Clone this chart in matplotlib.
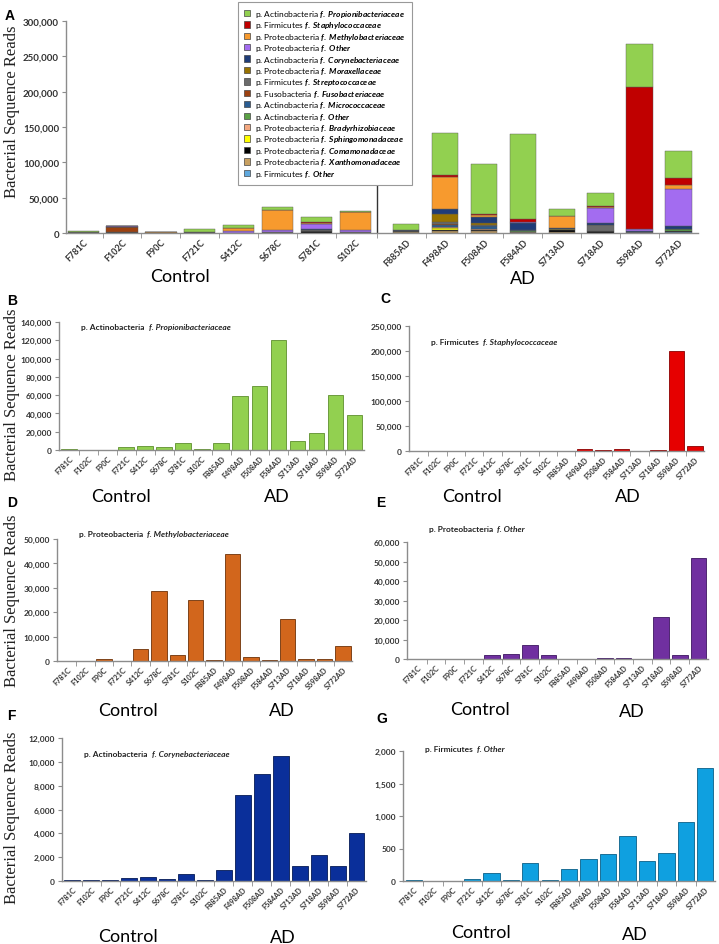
import numpy as np
import matplotlib.pyplot as plt
from matplotlib.patches import Patch
from matplotlib.ticker import FuncFormatter

plt.rcParams['font.family'] = ['Lato', 'DejaVu Sans']
plt.rcParams['mathtext.fontset'] = 'custom'
plt.rcParams['mathtext.it'] = 'Lato:italic:bold'
plt.rcParams['mathtext.rm'] = 'Lato'
plt.rcParams['mathtext.bf'] = 'Lato:bold'

W, H = 719, 945

samples = ['F781C', 'F102C', 'F90C', 'F721C', 'S412C', 'S678C', 'S781C', 'S102C',
           'F885AD', 'F498AD', 'F508AD', 'F584AD', 'S713AD', 'S718AD', 'S598AD', 'S772AD']

# reads per family (same sample order as above)
propioni = [1000, 300, 300, 3500, 4500, 3500, 8000, 1500, 7500, 59500, 70000, 120500, 9500, 18500, 60500, 38500]
staphylo = [0, 0, 0, 0, 0, 0, 500, 0, 0, 3500, 2500, 4000, 0, 1500, 201000, 9500]
methylo = [100, 100, 700, 100, 5000, 28500, 2300, 25200, 500, 44000, 1700, 600, 17300, 800, 800, 6000]
proteo_other = [0, 200, 0, 0, 2000, 2800, 7000, 2000, 0, 0, 400, 300, 0, 21300, 2200, 51800]
coryne = [50, 50, 80, 230, 300, 200, 550, 80, 900, 7200, 8950, 10450, 1270, 2150, 1300, 4000]
moraxella = [0, 0, 0, 0, 0, 0, 0, 0, 0, 12000, 2000, 500, 0, 500, 0, 0]
strepto = [0, 0, 0, 0, 0, 1000, 1500, 1500, 0, 3000, 2500, 0, 0, 9000, 500, 1000]
fuso = [0, 8000, 600, 0, 0, 0, 0, 0, 0, 1000, 0, 0, 0, 0, 0, 0]
micrococ = [0, 0, 0, 0, 0, 0, 0, 0, 0, 3000, 3500, 500, 0, 0, 0, 0]
actino_other = [1000, 0, 0, 0, 0, 0, 500, 0, 0, 0, 500, 2000, 0, 0, 0, 3000]
bradyrhizo = [0, 0, 0, 0, 0, 0, 0, 500, 0, 1500, 500, 0, 0, 0, 0, 0]
sphingo = [0, 0, 0, 0, 0, 0, 0, 0, 500, 2500, 1000, 0, 500, 0, 0, 0]
comamona = [0, 1000, 0, 1500, 0, 500, 2500, 0, 1500, 2000, 1000, 0, 3000, 2000, 500, 500]
xanthomona = [0, 0, 0, 0, 0, 0, 0, 0, 1000, 2000, 2500, 500, 1500, 0, 0, 0]
firm_other = [10, 5, 5, 25, 120, 10, 280, 10, 185, 345, 415, 690, 310, 425, 905, 1740]

legend_labels = [
    ('Actinobacteria', 'Propionibacteriaceae'),
    ('Firmicutes', 'Staphylococcaceae'),
    ('Proteobacteria', 'Methylobacteriaceae'),
    ('Proteobacteria', 'Other'),
    ('Actinobacteria', 'Corynebacteriaceae'),
    ('Proteobacteria', 'Moraxellaceae'),
    ('Firmicutes', 'Streptococcaceae'),
    ('Fusobacteria', 'Fusobacteriaceae'),
    ('Actinobacteria', 'Micrococcaceae'),
    ('Actinobacteria', 'Other'),
    ('Proteobacteria', 'Bradyrhizobiaceae'),
    ('Proteobacteria', 'Sphingomonadaceae'),
    ('Proteobacteria', 'Comamonadaceae'),
    ('Proteobacteria', 'Xanthomonadaceae'),
    ('Firmicutes', 'Other'),
]
stack_data = [propioni, staphylo, methylo, proteo_other, coryne, moraxella, strepto, fuso,
              micrococ, actino_other, bradyrhizo, sphingo, comamona, xanthomona, firm_other]
stack_colors = ['#92D050', '#C00000', '#F79A2E', '#A36CF0', '#1F3C78', '#987200', '#6B6B6B',
                '#9C4110', '#2A5C91', '#5AA145', '#F4A880', '#FFFF00', '#000000', '#C8A060', '#5FA8DD']

AXC = '#8c8c8c'


def mlab(phylum, family):
    fam = family.replace(' ', r'\ ')
    return 'p. ' + phylum + ' ' + r'$f.\ ' + fam + '$'


def px_axes(x0, y0, x1, y1):
    return fig.add_axes([x0 / W, 1 - y1 / H, (x1 - x0) / W, (y1 - y0) / H])


def style(ax, xpos, bounds, xfs, yfs):
    for s in ['top', 'right']:
        ax.spines[s].set_visible(False)
    for s in ['left', 'bottom']:
        ax.spines[s].set_color(AXC)
        ax.spines[s].set_linewidth(1.0)
    ax.set_xticks(xpos)
    ax.set_xticklabels(samples, rotation=45, ha='right', rotation_mode='anchor',
                       fontsize=xfs, fontweight='bold', color='#333333')
    ax.tick_params(axis='x', which='major', length=0, pad=3)
    ax.set_xticks(bounds, minor=True)
    ax.tick_params(axis='x', which='minor', length=3.5, color=AXC, direction='out')
    ax.yaxis.set_major_formatter(FuncFormatter(lambda v, p: f'{int(v):,}'))
    ax.tick_params(axis='y', length=3, color=AXC, labelsize=yfs, pad=2)
    for t in ax.get_yticklabels():
        t.set_fontweight('bold')
        t.set_color('#333333')


fig = plt.figure(figsize=(W / 100, H / 100), dpi=100)

# ---------------- panel A ----------------
posA = np.array([i if i < 8 else i + 0.3 for i in range(16)])
widA = np.array([0.8 if i < 8 else 0.68 for i in range(16)])
axA = px_axes(66, 22, 698, 234)
bottom = np.zeros(16)
for vals, col in zip(stack_data[::-1], stack_colors[::-1]):
    v = np.array(vals, dtype=float)
    axA.bar(posA, v, width=widA, bottom=bottom, color=col, edgecolor='#555555', linewidth=0.3)
    bottom += v
axA.set_xlim(-0.44, 15.8)
axA.set_ylim(0, 300000)
axA.set_yticks(np.arange(0, 300001, 50000))
boundsA = list(np.arange(0.5, 7, 1)) + [7.55] + list(posA[8:15] + 0.5)
style(axA, posA, boundsA, 6.5, 7)
axA.plot([7.55, 7.55], [0, 73000], color='#333333', lw=1.0)

handles = [Patch(facecolor=c, edgecolor='#444444', linewidth=0.5) for c in stack_colors]
labels = [mlab(p, f) for p, f in legend_labels]
leg = fig.legend(handles, labels, loc='upper left', bbox_to_anchor=(238 / W, 1 - 3 / H),
                 bbox_transform=fig.transFigure, fontsize=6, frameon=True, fancybox=False,
                 edgecolor='#999999', framealpha=1, handlelength=0.8, handleheight=0.8,
                 handletextpad=0.6, labelspacing=0.05, borderpad=0.7, borderaxespad=0)
leg.get_frame().set_linewidth(0.8)

fig.text(5 / W, 1 - 20 / H, 'A', fontsize=10, fontweight='bold', family='Liberation Sans')

# ---------------- small panels ----------------
pos = np.arange(16)
bnds = np.arange(0.5, 15, 1)

panels = [
    # letter, data, color, edge, box, ymax, ystep, family text, letter pos, text y
    ('B', propioni, '#92D050', '#5E8F2E', (59, 323, 364, 451), 140000, 20000,
     ('Actinobacteria', 'Propionibacteriaceae'), (7, 305), 330),
    ('C', staphylo, '#E60000', '#8B0000', (409, 327, 704, 452), 250000, 50000,
     ('Firmicutes', 'Staphylococcaceae'), (380, 303), 345),
    ('D', methylo, '#D2661C', '#6E3208', (57, 540, 352, 662), 50000, 10000,
     ('Proteobacteria', 'Methylobacteriaceae'), (7, 507), 537),
    ('E', proteo_other, '#7030A0', '#3C1560', (407, 543, 708, 660), 60000, 10000,
     ('Proteobacteria', 'Other'), (376, 507), 532),
    ('F', coryne, '#0A2F9A', '#051A55', (62, 739, 366, 882), 12000, 2000,
     ('Actinobacteria', 'Corynebacteriaceae'), (7, 720), 757),
    ('G', firm_other, '#0FA0E0', '#0A5F88', (403, 752, 715, 882), 2000, 500,
     ('Firmicutes', 'Other'), (376, 723), 752),
]

for letter, vals, col, edge, box, ymax, ystep, fam, lpos, ty in panels:
    ax = px_axes(*box)
    ax.bar(pos, vals, width=0.84, color=col, edgecolor=edge, linewidth=0.6)
    ax.set_xlim(-0.55, 15.5)
    ax.set_ylim(0, ymax)
    ax.set_yticks(np.arange(0, ymax + 1, ystep))
    style(ax, pos, bnds, 5.3, 6)
    t1 = fig.text((box[0] + 22) / W, 1 - ty / H, 'p. ' + fam[0], fontsize=6,
                  fontweight='bold', va='baseline', ha='left', color='#222222')
    ax.annotate('f. ' + fam[1], xy=(1, 0), xycoords=t1, xytext=(3, 0),
                textcoords='offset points', fontsize=6, fontweight='bold', style='italic',
                va='bottom', ha='left', color='#222222', annotation_clip=False)
    fig.text(lpos[0] / W, 1 - lpos[1] / H, letter, fontsize=10, fontweight='bold',
             family='Liberation Sans')

# group labels below each panel
group_labels = [
    (180, 277, 523, 279),   # A
    (121, 497, 277, 497),   # B
    (472, 497, 628, 497),   # C
    (128, 711, 282, 711),   # D
    (480, 710, 632, 712),   # E
    (128, 937, 283, 938),   # F
    (481, 933, 635, 935),   # G
]
for cx, cy, ax_, ay in group_labels:
    fig.text(cx / W, 1 - cy / H, 'Control', fontsize=13, ha='center', va='center')
    fig.text(ax_ / W, 1 - ay / H, 'AD', fontsize=13, ha='center', va='center')

# y axis titles (left column)
for cy in [112, 395, 601, 818]:
    fig.text(12 / W, 1 - cy / H, 'Bacterial Sequence Reads', rotation=90, fontsize=12,
             family='Liberation Serif', ha='center', va='center', color='#222222')

fig.savefig('out.png', dpi=100)
